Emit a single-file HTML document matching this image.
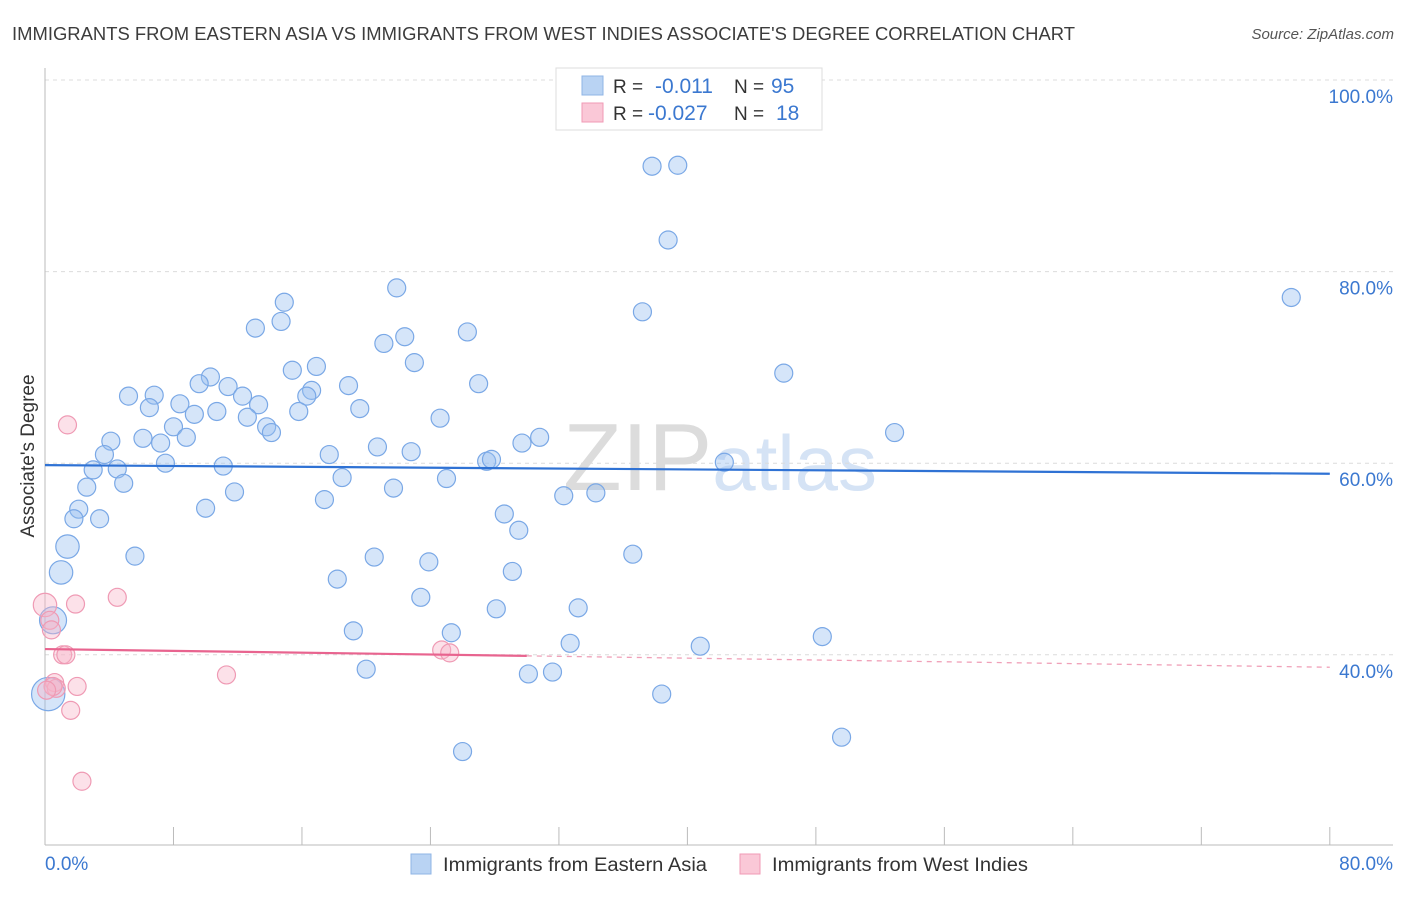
<!DOCTYPE html>
<html><head><meta charset="utf-8"><style>
body{margin:0;background:#fff;font-family:"Liberation Sans",sans-serif}
svg text{font-family:"Liberation Sans",sans-serif}
</style></head><body>
<svg id="c" width="1406" height="892">
<text x="12" y="40" font-size="18" fill="#3c3c3c" textLength="1063" lengthAdjust="spacingAndGlyphs">IMMIGRANTS FROM EASTERN ASIA VS IMMIGRANTS FROM WEST INDIES ASSOCIATE'S DEGREE CORRELATION CHART</text>
<text x="1394" y="39" font-size="15" fill="#555" text-anchor="end" font-style="italic">Source: ZipAtlas.com</text>
<text x="720" y="490" font-size="96" fill="#e4e4e4" text-anchor="middle" font-family="Liberation Serif"><tspan fill="#dcdcdc">ZIP</tspan><tspan font-family="Liberation Sans" fill="#d5e3f5" font-size="78">atlas</tspan></text>
<text transform="translate(34,456) rotate(-90)" font-size="19" fill="#333" text-anchor="middle">Associate's Degree</text>
<g id="grid"></g><g id="pts"></g><g id="lines"></g>
<g>
<rect x="556" y="68" width="266" height="62" fill="#fff" stroke="#ddd"/>
<rect x="582" y="76" width="21" height="19" fill="#b9d3f3" stroke="#8fb4e6"/>
<rect x="582" y="103" width="21" height="19" fill="#fac8d7" stroke="#f09ab5"/>
<text x="613" y="93" font-size="19" fill="#333">R = </text><text x="655" y="93" font-size="21" fill="#3b78d0">-0.011</text>
<text x="734" y="93" font-size="19" fill="#333">N = </text><text x="771" y="93" font-size="21" fill="#3b78d0">95</text>
<text x="613" y="120" font-size="19" fill="#333">R = </text><text x="648" y="120" font-size="21" fill="#3b78d0">-0.027</text>
<text x="734" y="120" font-size="19" fill="#333">N = </text><text x="776" y="120" font-size="21" fill="#3b78d0">18</text>
</g>
<g>
<rect x="411" y="854" width="20" height="20" fill="#b9d3f3" stroke="#8fb4e6"/>
<text x="443" y="871" font-size="19" fill="#333" textLength="264" lengthAdjust="spacingAndGlyphs">Immigrants from Eastern Asia</text>
<rect x="740" y="854" width="20" height="20" fill="#fac8d7" stroke="#f09ab5"/>
<text x="772" y="871" font-size="19" fill="#333" textLength="256" lengthAdjust="spacingAndGlyphs">Immigrants from West Indies</text>
</g>
<text x="45" y="870" font-size="19" fill="#3b78d0">0.0%</text>
<text x="1393" y="870" font-size="19" fill="#3b78d0" text-anchor="end">80.0%</text>
</svg>
<script>
const yTicks=[100,80,60,40];
const yTickLabels=["100.0%","80.0%","60.0%","40.0%"];
const blueX=[37.8,39.4,38.8,77.6,37.2,21.9,14.9,14.7,13.1,26.3,22.4,21.1,23.0,15.4,16.9,10.3,9.6,11.4,16.6,18.9,27.0,46.0,5.2,6.8,12.3,16.3,6.5,8.4,13.3,19.6,9.3,10.7,15.8,12.6,24.6,8.0,13.8,14.1,6.1,8.8,7.2,4.1,29.7,30.8,20.7,52.9,3.7,17.7,22.8,7.5,11.1,27.5,27.8,42.3,3.0,4.5,18.5,25.0,4.9,2.6,21.7,11.8,32.3,34.3,17.4,10.0,2.1,28.6,1.8,3.4,29.5,1.4,5.6,20.5,36.6,23.9,1.0,29.1,18.2,23.4,33.2,28.1,0.5,19.2,25.3,48.4,32.7,40.8,20.0,30.1,31.6,0.2,38.4,26.0,49.6];
const blueY=[91.0,91.1,83.3,77.3,75.8,78.3,76.8,74.8,74.1,73.7,73.2,72.5,70.5,69.7,70.1,69.0,68.3,68.0,67.6,68.1,68.3,69.4,67.0,67.1,67.0,67.0,65.8,66.2,66.1,65.7,65.1,65.4,65.4,64.8,64.7,63.8,63.8,63.2,62.6,62.7,62.1,62.3,62.1,62.7,61.7,63.2,60.9,60.9,61.2,60.0,59.7,60.2,60.4,60.1,59.3,59.4,58.5,58.4,57.9,57.5,57.4,57.0,56.6,56.9,56.2,55.3,55.2,54.7,54.2,54.2,53.0,51.3,50.3,50.2,50.5,49.7,48.6,48.7,47.9,46.0,44.9,44.8,43.6,42.5,42.3,41.9,41.2,40.9,38.5,38.0,38.2,35.9,35.9,29.9,31.4];
const blueSize=[];blueX.forEach(()=>blueSize.push(1));
blueSize[71]=1.3;blueSize[76]=1.3;blueSize[82]=1.5;blueSize[91]=1.85;
const pinkX=[1.4,4.5,1.9,0,0.3,0.4,1.1,1.3,11.3,2.0,0.6,0.7,0.5,0.1,1.6,24.7,25.2,2.3];
const pinkY=[64.0,46.0,45.3,45.2,43.6,42.6,40.0,40.0,37.9,36.7,37.1,36.5,36.7,36.3,34.2,40.5,40.2,26.8];
const pinkSize=[1,1,1,1.3,1,1,1,1,1,1,1,1,1,1,1,1,1,1];
const blueTrend=[59.8,58.9];
const pinkTrend=[40.6,38.7];
const pinkSolidEnd=30;
const xs=v=>45+v*16.06, ys=v=>80+(100-v)*9.58;
const NS="http://www.w3.org/2000/svg";
function mk(t,a,p){const e=document.createElementNS(NS,t);for(const k in a)e.setAttribute(k,a[k]);p.appendChild(e);return e;}
const g=document.getElementById('grid');
yTicks.forEach((t,i)=>{
 const l=mk('line',{x1:45,x2:1393,y1:ys(t),y2:ys(t),stroke:'#dcdcdc','stroke-dasharray':'4,4'},g);
 
 
 const tx=mk('text',{x:1393,y:ys(t)+23,'font-size':19,fill:'#3b78d0','text-anchor':'end'},g);
 tx.textContent=yTickLabels[i];
 
 
});
const ax=mk('line',{x1:45,x2:45,y1:68,y2:845,stroke:'#bbb'},g);


const bx=mk('line',{x1:45,x2:1393,y1:845,y2:845,stroke:'#bbb'},g);


for(let i=0;i<=10;i++){const tk=mk('line',{x1:xs(i*8),x2:xs(i*8),y1:827,y2:845,stroke:'#bbb'},g);
 
 }
const P=document.getElementById('pts');
blueX.forEach((x,i)=>{const c=mk('circle',{cx:xs(x),cy:ys(blueY[i]),r:9*blueSize[i],fill:'rgba(150,190,240,0.4)',stroke:'#7aa8e6','stroke-width':1.2},P);
 
 });
pinkX.forEach((x,i)=>{const c=mk('circle',{cx:xs(x),cy:ys(pinkY[i]),r:9*pinkSize[i],fill:'rgba(248,180,200,0.4)',stroke:'#ef9ab4','stroke-width':1.2},P);
 
 });
const L=document.getElementById('lines');
const b=mk('line',{x1:xs(0),x2:xs(80),y1:ys(blueTrend[0]),y2:ys(blueTrend[1]),stroke:'#2f72d4','stroke-width':2.2},L);


const pm=pinkTrend[0]+(pinkTrend[1]-pinkTrend[0])*pinkSolidEnd/80;
const p1=mk('line',{x1:xs(0),x2:xs(pinkSolidEnd),y1:ys(pinkTrend[0]),y2:ys(pm),stroke:'#e8648f','stroke-width':2.2},L);


const p2=mk('line',{x1:xs(pinkSolidEnd),x2:xs(80),y1:ys(pm),y2:ys(pinkTrend[1]),stroke:'#f0a0b8','stroke-width':1.3,'stroke-dasharray':'5,5'},L);


</script>
</body></html>
